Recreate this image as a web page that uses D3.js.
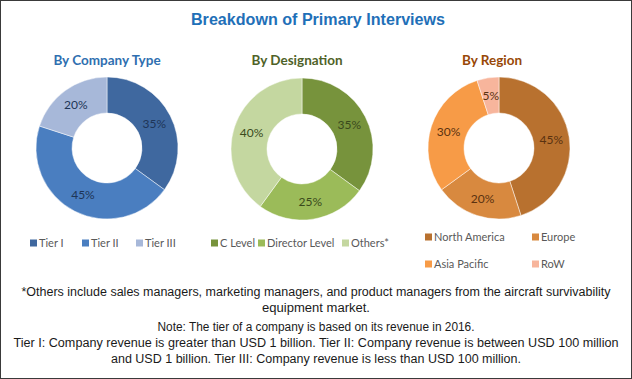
<!DOCTYPE html>
<html><head><meta charset="utf-8">
<script src="https://cdn.jsdelivr.net/npm/d3@7"></script>
<style>
html,body{margin:0;padding:0;background:#fff;}
svg{display:block;}
</style></head>
<body>
<script>
// ---- data ----
const companyTypes = ["Tier I", "Tier II", "Tier III"];
const companyValues = [35, 45, 20];
const designations = ["C Level", "Director Level", "Others*"];
const designationValues = [35, 25, 40];
const regions = ["North America", "Europe", "Asia Pacific", "RoW"];
const regionValues = [45, 20, 30, 5];

const titleText = "Breakdown of Primary Interviews";
const chartTitles = ["By Company Type", "By Designation", "By Region"];
const footnotes = [
  "*Others include sales managers, marketing managers, and product managers from the aircraft survivability",
  "equipment market.",
  "Note: The tier of a company is based on its revenue in 2016.",
  "Tier I: Company revenue is greater than USD 1 billion. Tier II: Company revenue is between USD 100 million",
  "and USD 1 billion. Tier III: Company revenue is less than USD 100 million."
];

// ---- styles ----
const W = 632, H = 379;
const svg = d3.select("body").append("svg").attr("width", W).attr("height", H);
svg.append("rect").attr("x", 0.5).attr("y", 0.5).attr("width", W - 1).attr("height", H - 1)
  .attr("fill", "#fff").attr("stroke", "#3a3a3a").attr("stroke-width", 1);

svg.append("text").attr("x", 318).attr("y", 25).attr("text-anchor", "middle")
  .attr("font-family", "'Liberation Sans Narrow', 'Arial Narrow', sans-serif")
  .attr("font-weight", "bold").attr("font-size", 16).attr("fill", "#1f70b8")
  .attr("textLength", 254).attr("lengthAdjust", "spacingAndGlyphs")
  .text(titleText);

const charts = [
  { title: chartTitles[0], titleColor: "#2f6fb0", cx: 107, cy: 148, labels: companyTypes, values: companyValues,
    colors: ["#3f689f", "#4a7ec0", "#a7b8d9"], labelColor: "#1e3557", tx: 107,
    legend: [[30, 243], [82, 243], [136, 243]] },
  { title: chartTitles[1], titleColor: "#4f6228", cx: 302, cy: 149, labels: designations, values: designationValues,
    colors: ["#77933c", "#9bbb59", "#c4d7a0"], labelColor: "#3a4a1c", tx: 297,
    legend: [[211, 243], [258, 243], [342, 243]] },
  { title: chartTitles[2], titleColor: "#984807", cx: 499, cy: 148, labels: regions, values: regionValues,
    colors: ["#b8712f", "#d8893f", "#f79b47", "#f7b59c"], labelColor: "#5a3210", tx: 492,
    legend: [[425, 237], [532, 237], [425, 264], [532, 264]] }
];

const outerR = 71, innerR = 35;
const pie = d3.pie().sort(null).value(d => d.v);
const arc = d3.arc().innerRadius(innerR).outerRadius(outerR);
const labelArc = d3.arc().innerRadius(53).outerRadius(53);

charts.forEach(c => {
  svg.append("text").attr("x", c.tx).attr("y", 65).attr("text-anchor", "middle")
    .attr("font-family", "Lato, 'Open Sans', sans-serif").attr("font-weight", "bold")
    .attr("font-size", 13.5).attr("fill", c.titleColor).text(c.title);

  const data = c.labels.map((l, i) => ({ l, v: c.values[i], col: c.colors[i] }));
  const g = svg.append("g").attr("transform", `translate(${c.cx},${c.cy})`);
  const arcs = pie(data);
  g.selectAll("path").data(arcs).join("path")
    .attr("d", arc).attr("fill", d => d.data.col)
    .attr("stroke", "#ffffff").attr("stroke-opacity", 0.6).attr("stroke-width", 0.8);
  g.selectAll("text").data(arcs).join("text")
    .attr("transform", d => `translate(${labelArc.centroid(d)})`)
    .attr("text-anchor", "middle").attr("dy", "0.35em")
    .attr("font-family", "Lato, 'Open Sans', sans-serif").attr("font-size", 12)
    .attr("fill", c.labelColor).text(d => d.data.v + "%");

  const lg = svg.append("g");
  data.forEach((d, i) => {
    const [x, y] = c.legend[i];
    lg.append("rect").attr("x", x).attr("y", y - 3.5).attr("width", 7).attr("height", 7).attr("fill", d.col);
    lg.append("text").attr("x", x + 9).attr("y", y).attr("dy", "0.35em")
      .attr("font-family", "Lato, 'Open Sans', sans-serif").attr("font-size", 11)
      .attr("fill", "#595959").text(d.l);
  });
});

const footY = [296, 312, 331, 347, 363];
const footW = [589, 108, 317, 605, 410];
footnotes.forEach((t, i) => {
  svg.append("text").attr("x", 316).attr("y", footY[i]).attr("text-anchor", "middle")
    .attr("font-family", "'Liberation Sans Narrow', 'Arial Narrow', 'Liberation Sans', sans-serif")
    .attr("font-size", 12).attr("fill", "#1a1a1a")
    .attr("textLength", footW[i]).attr("lengthAdjust", "spacingAndGlyphs")
    .text(t);
});
</script>
</body></html>
